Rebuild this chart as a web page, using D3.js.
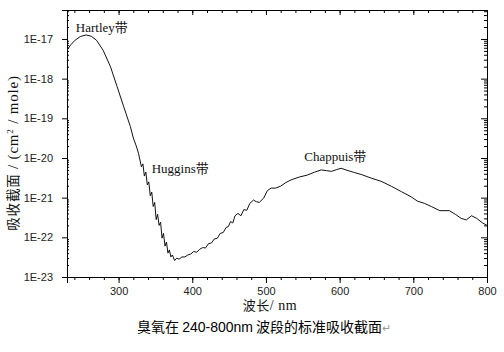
<!DOCTYPE html>
<html>
<head>
<meta charset="utf-8">
<script src="https://cdn.jsdelivr.net/npm/d3@7"></script>
<style>
  body { margin: 0; background: #fff; }
  .axis text { font-family: "Liberation Sans", Arial, sans-serif; font-size: 11px; fill: #222; }
  .axis path, .axis line { stroke: #000; stroke-width: 1; }
  .ann { font-family: "Liberation Serif", "Noto Sans CJK SC", serif; font-size: 13px; fill: #111; }
</style>
</head>
<body>
<div id="chart"></div>
<script>
// wavelength (nm) and O3 absorption cross section (cm2/mole)
let wavelength = [230, 235, 241, 248, 256, 263, 270, 279, 289, 298, 307, 316, 320, 324, 327,
    329, 331, 333, 335, 337, 339, 341, 343, 345, 347, 349, 351, 353, 355, 357, 359, 361, 363, 365,
    367, 369, 371, 373, 376, 379, 382, 386, 390, 394, 398, 402, 406, 410, 414, 418, 422, 426, 430,
    434, 438, 442, 446, 449, 452, 455, 458, 462, 466, 470, 474, 478, 483, 487, 491, 497, 502, 507,
    513, 520, 527, 534, 545, 556, 566, 575, 582, 589, 596, 602, 610, 620, 630, 643, 656, 670, 684,
    697, 706, 715, 725, 736, 749, 757, 765, 772, 779, 786, 794, 800];
let crossSection = [5.2e-18, 7.1e-18, 9.3e-18, 1.15e-17, 1.26e-17, 1.17e-17, 9.3e-18, 5.2e-18,
    2.0e-18, 6.3e-19, 1.95e-19, 6.2e-20, 3.2e-20, 2.0e-20, 1.32e-20,
    8.9e-21, 6.0e-21, 7.1e-21, 3.5e-21, 4.4e-21, 2.1e-21, 2.5e-21, 1.12e-21, 1.38e-21, 6.0e-22,
    7.6e-22, 2.8e-22, 3.8e-22, 2.0e-22, 2.4e-22, 9.5e-23, 1.26e-22, 6.0e-23, 7.6e-23, 4.0e-23,
    4.8e-23, 3.2e-23, 3.6e-23, 2.6e-23, 3.0e-23, 2.8e-23, 3.2e-23, 3.2e-23, 3.6e-23, 3.8e-23,
    4.4e-23, 4.2e-23, 5.0e-23, 5.5e-23, 5.4e-23, 6.9e-23, 7.2e-23, 9.1e-23, 9.5e-23, 1.26e-22,
    1.32e-22, 1.78e-22, 1.86e-22, 2.5e-22, 2.3e-22, 3.5e-22, 4.0e-22, 3.5e-22, 5.0e-22, 4.8e-22,
    7.1e-22, 8.7e-22, 7.9e-22, 7.6e-22, 9.8e-22, 1.51e-21, 1.74e-21, 1.74e-21, 1.95e-21, 2.4e-21,
    2.8e-21, 3.3e-21, 3.7e-21, 4.4e-21, 5.0e-21, 4.8e-21, 4.6e-21, 5.1e-21, 5.5e-21, 4.9e-21,
    4.3e-21, 3.8e-21, 3.1e-21, 2.6e-21, 1.95e-21, 1.41e-21, 1.05e-21, 8.1e-22, 7.2e-22, 5.9e-22,
    4.7e-22, 4.7e-22, 3.8e-22, 3.0e-22, 2.75e-22, 3.5e-22, 3.0e-22, 2.3e-22, 2.0e-22];

let xMajor = [300, 400, 500, 600, 700, 800];
let xMinor = d3.range(240, 801, 20);
let yMajor = [1e-23, 1e-22, 1e-21, 1e-20, 1e-19, 1e-18, 1e-17];

let bandLabels = [
    {text: "Hartley带", x: 242, y: 1.5e-17},
    {text: "Huggins带", x: 345, y: 4.2e-21},
    {text: "Chappuis带", x: 552, y: 8.5e-21}
];

let margin = {top: 10, right: 17, bottom: 75, left: 67};
let width = 504 - margin.left - margin.right,
    height = 352 - margin.top - margin.bottom;

let svg = d3.select("#chart").append("svg")
    .attr("width", 504)
    .attr("height", 352);

let g = svg.append("g")
    .attr("transform", "translate(" + margin.left + "," + margin.top + ")");

// scales
let x = d3.scaleLinear().domain([230, 800]).range([0, width]);
let y = d3.scaleLog().domain([1e-23, Math.pow(10, -16.27)]).range([height, 0]);

// log minor ticks
let yMinor = [];
for (let e = -23; e <= -17; e++) {
    for (let m = 2; m <= 9; m++) {
        let v = m * Math.pow(10, e);
        if (v < y.domain()[1]) yMinor.push(v);
    }
}

let fmt = d => "1E" + Math.round(Math.log10(d));

// bottom axis
g.append("g").attr("class", "axis")
    .attr("transform", "translate(0," + height + ")")
    .call(d3.axisBottom(x).tickValues(xMinor).tickSize(3).tickFormat(""));
g.append("g").attr("class", "axis")
    .attr("transform", "translate(0," + height + ")")
    .call(d3.axisBottom(x).tickValues(xMajor).tickSize(6).tickPadding(4).tickFormat(d3.format("d")));

// top axis (ticks inward)
g.append("g").attr("class", "axis")
    .call(d3.axisTop(x).tickValues(xMinor).tickSize(-3).tickFormat(""));
g.append("g").attr("class", "axis")
    .call(d3.axisTop(x).tickValues(xMajor).tickSize(-5).tickFormat(""));

// left axis
g.append("g").attr("class", "axis")
    .call(d3.axisLeft(y).tickValues(yMinor).tickSize(-2).tickFormat(""));
g.append("g").attr("class", "axis")
    .call(d3.axisLeft(y).tickValues(yMajor).tickSize(5).tickPadding(9).tickFormat(fmt));

// right axis (ticks inward)
g.append("g").attr("class", "axis")
    .attr("transform", "translate(" + width + ",0)")
    .call(d3.axisRight(y).tickValues(yMinor).tickSize(-3).tickFormat(""));
g.append("g").attr("class", "axis")
    .attr("transform", "translate(" + width + ",0)")
    .call(d3.axisRight(y).tickValues(yMajor).tickSize(-6).tickFormat(""));

// clip
g.append("defs").append("clipPath").attr("id", "clip")
    .append("rect").attr("width", width).attr("height", height);

let line = d3.line()
    .x((d, i) => x(wavelength[i]))
    .y(d => y(d));

g.append("path")
    .datum(crossSection)
    .attr("clip-path", "url(#clip)")
    .attr("fill", "none")
    .attr("stroke", "#111")
    .attr("stroke-width", 1)
    .attr("d", line);

// band labels
g.selectAll(".ann")
    .data(bandLabels)
    .enter().append("text")
    .attr("class", "ann")
    .attr("x", d => x(d.x))
    .attr("y", d => y(d.y))
    .text(d => d.text);

// axis titles
let xt = svg.append("text")
    .attr("x", 270)
    .attr("y", 310)
    .attr("text-anchor", "middle")
    .style("font-family", "'Liberation Serif', 'Noto Sans CJK SC', serif")
    .style("font-size", "13px")
    .style("letter-spacing", "0.5px")
    .attr("fill", "#111");
xt.append("tspan").text("波长");
xt.append("tspan").style("font-size", "14px").text("/ nm");

let yt = svg.append("text")
    .attr("transform", "translate(18,153) rotate(-90)")
    .attr("text-anchor", "middle")
    .style("font-family", "'Liberation Serif', 'Noto Sans CJK SC', serif")
    .style("font-size", "15px")
    .style("letter-spacing", "0.8px")
    .attr("fill", "#111");
yt.append("tspan").style("font-size", "13.5px").text("吸收截面");
yt.append("tspan").text(" / (cm");
yt.append("tspan").attr("dy", -5).style("font-size", "9px").text("2");
yt.append("tspan").attr("dy", 5).text(" / mole)");

// caption
let cap = svg.append("text")
    .attr("x", 137)
    .attr("y", 332)
    .style("font-family", "'Noto Sans CJK SC', 'Liberation Sans', sans-serif")
    .style("font-size", "14px")
    .attr("fill", "#000");
cap.append("tspan").text("臭氧在 ");
cap.append("tspan").style("font-family", "'Liberation Sans', Arial, sans-serif").text("240-800nm");
cap.append("tspan").text(" 波段的标准吸收截面");
cap.append("tspan").attr("fill", "#999").style("font-size", "11px").text("↵");
</script>
</body>
</html>
